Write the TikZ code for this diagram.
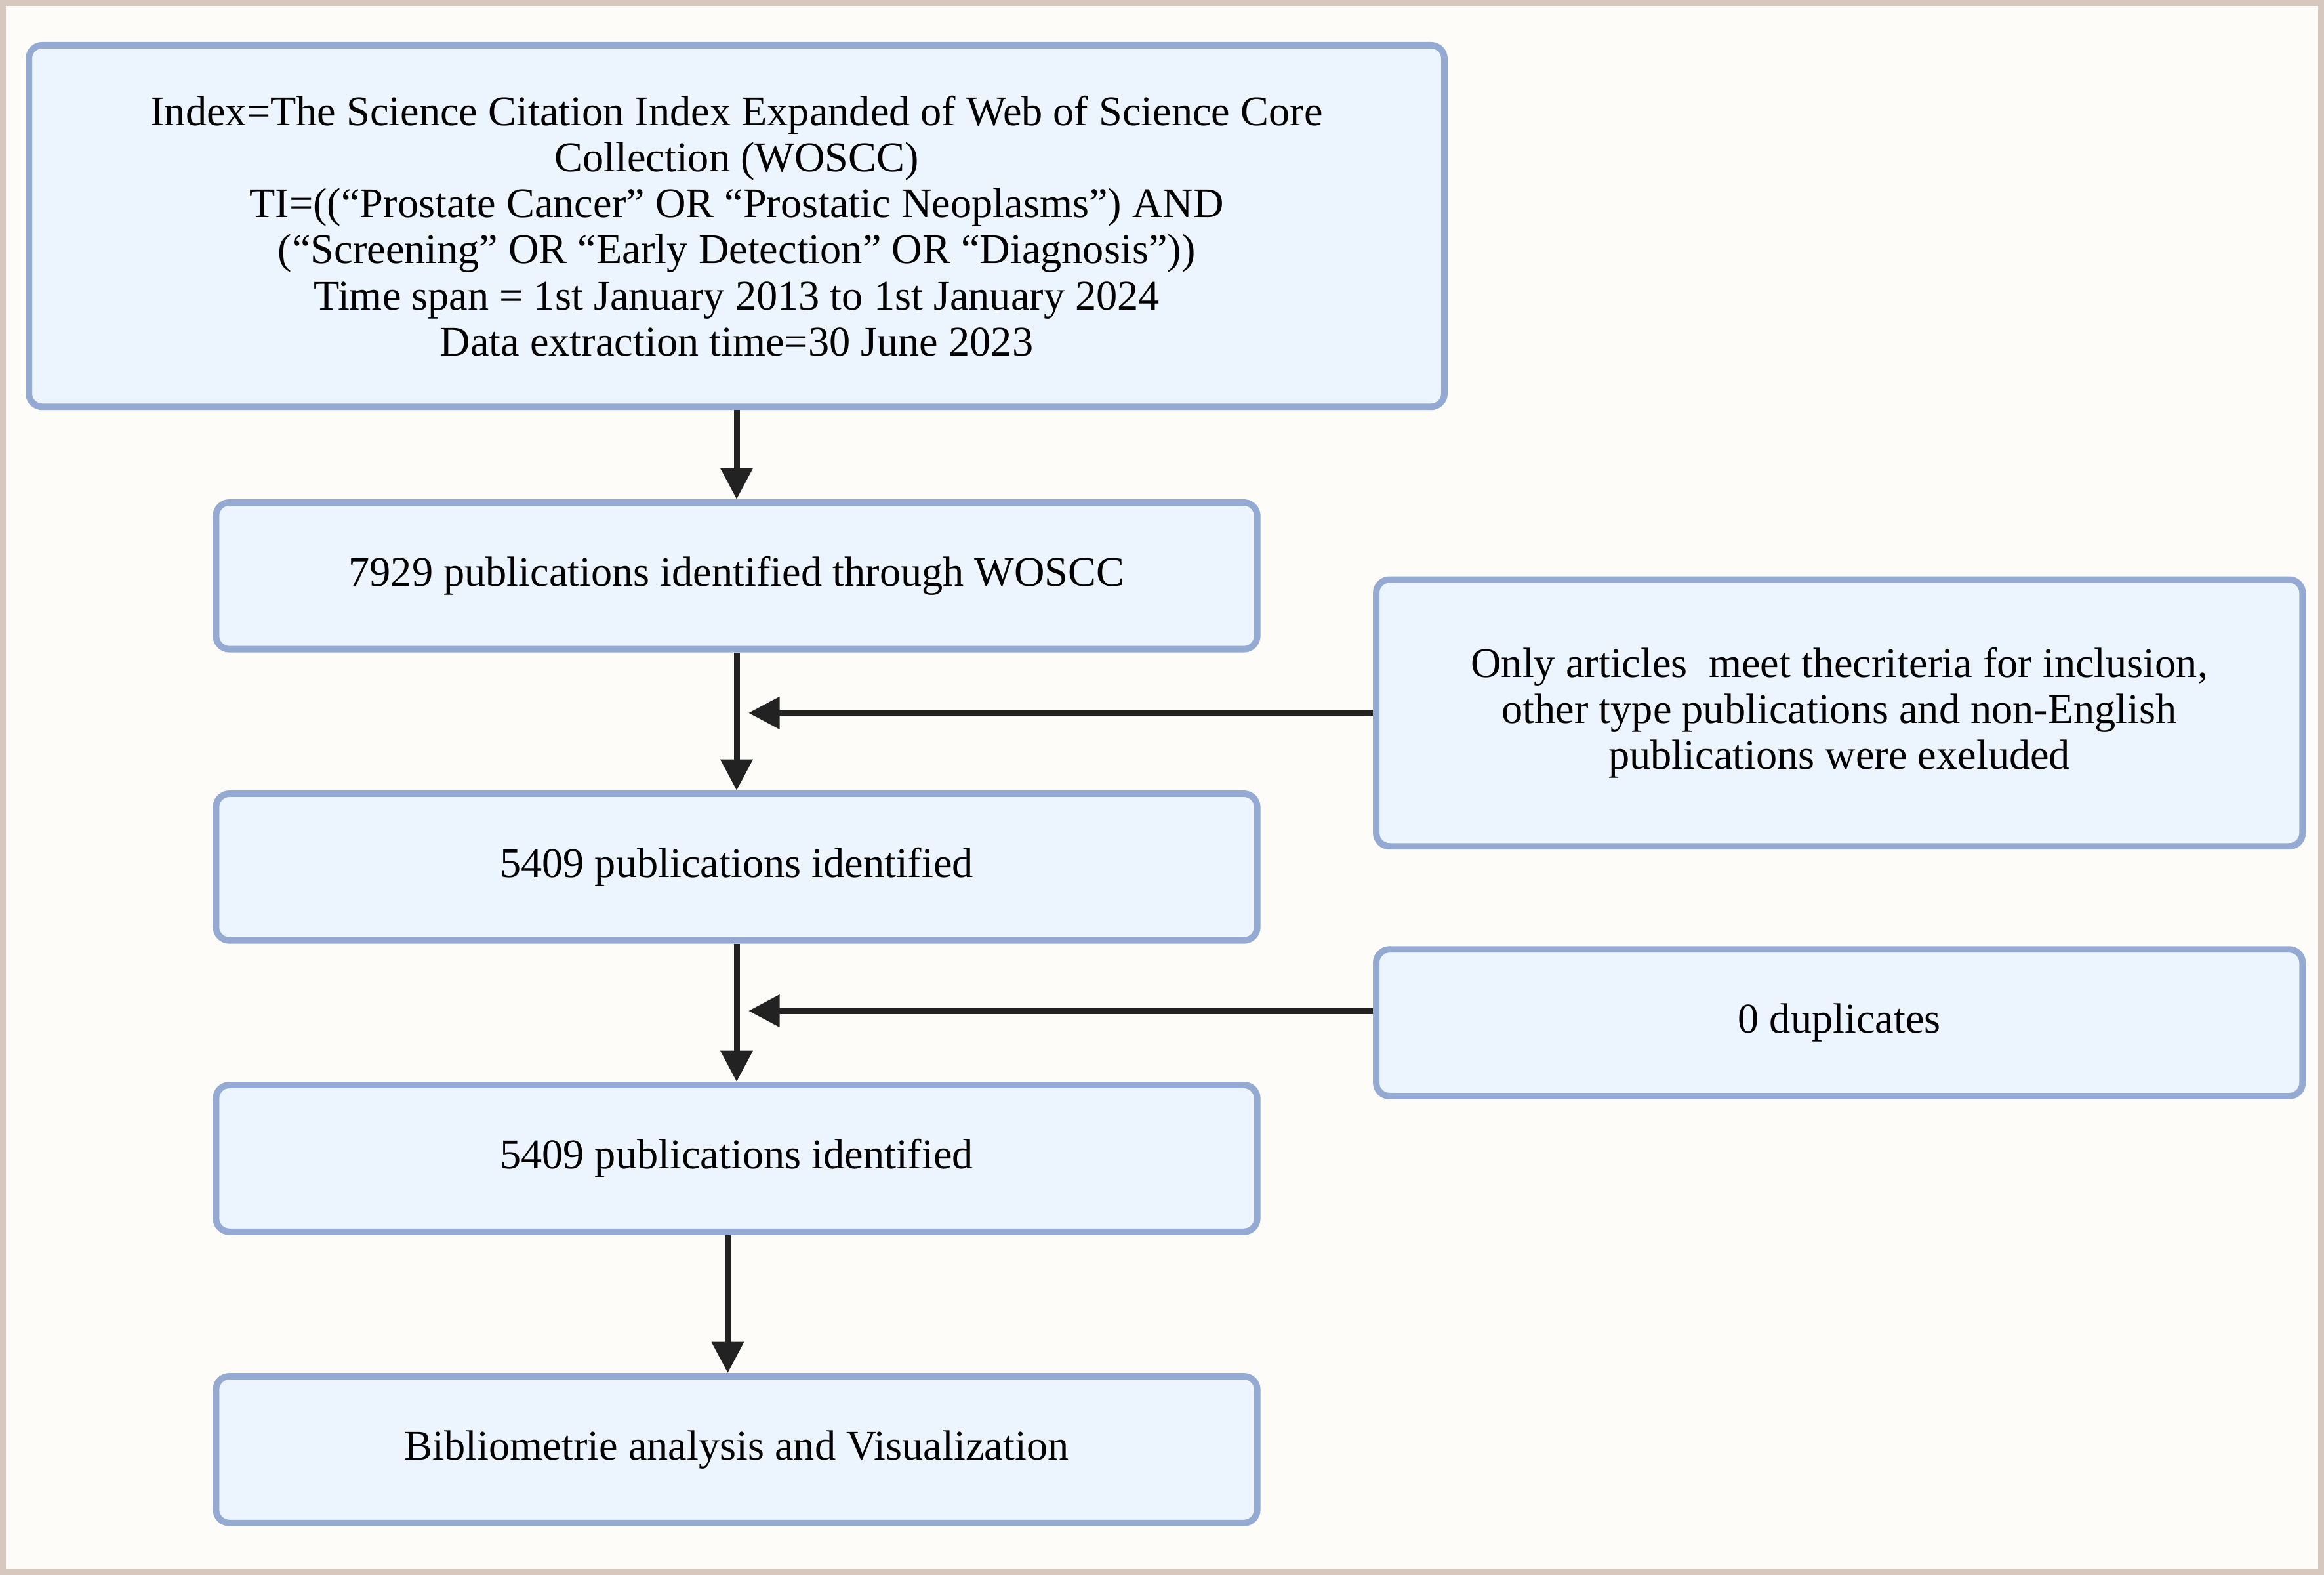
\documentclass[tikz,border=0pt]{standalone}
\usepackage{fontspec}
\setmainfont{Liberation Serif}
\usetikzlibrary{arrows.meta}
\definecolor{framecol}{RGB}{214,200,190}
\definecolor{paper}{RGB}{254,252,249}
\definecolor{boxfill}{RGB}{236,244,253}
\definecolor{boxline}{RGB}{148,170,210}
\definecolor{ink}{RGB}{34,34,34}
\begin{document}
\begin{tikzpicture}[
	stage/.style={draw=boxline,fill=boxfill,line width=2.5pt,rounded corners=0.18cm,align=center,font=\fontsize{16.2}{17.65}\selectfont},
	flow/.style={draw=ink,line width=0.08cm,-{Triangle[width=0.42cm,length=0.42cm]}}]
	\useasboundingbox (0,0) rectangle (31.36,-21.25);
	\fill[framecol] (0,0) rectangle (31.36,-21.25);
	\fill[paper] (0.08,-0.08) rectangle (31.28,-21.17);
	\node[stage,minimum width=19.1cm,minimum height=4.88cm] (A) at (9.94,-3.05) {Index=The Science Citation Index Expanded of Web of Science Core\\Collection (WOSCC)\\TI=((“Prostate Cancer” OR “Prostatic Neoplasms”) AND\\(“Screening” OR “Early Detection” OR “Diagnosis”))\\Time span = 1st January 2013 to 1st January 2024\\Data extraction time=30 June 2023};
	\node[stage,minimum width=14.05cm,minimum height=1.98cm] (B) at (9.94,-7.77) {7929 publications identified through WOSCC};
	\node[stage,minimum width=14.05cm,minimum height=1.98cm] (C) at (9.94,-11.70) {5409 publications identified};
	\node[stage,minimum width=14.05cm,minimum height=1.98cm] (D) at (9.94,-15.63) {5409 publications identified};
	\node[stage,minimum width=14.05cm,minimum height=1.98cm] (E) at (9.94,-19.56) {Bibliometrie analysis and Visualization};
	\node[stage,minimum width=12.5cm,minimum height=3.6cm] (F) at (24.82,-9.62) {Only articles\ \ meet thecriteria for inclusion,\\other type publications and non-English\\publications were exeluded};
	\node[stage,minimum width=12.5cm,minimum height=1.98cm] (G) at (24.82,-13.80) {0 duplicates};
	\coordinate (f1) at (10.10,-9.62);
	\coordinate (g1) at (10.10,-13.64);
	\draw[flow] (A) -- (B);
	\draw[flow] (B) -- (C);
	\draw[flow] (C) -- (D);
	\draw[flow] ([xshift=-0.12cm]D.south) -- ([xshift=-0.12cm]E.north);
	\draw[flow] (F.west) -- (f1);
	\draw[flow] ([yshift=0.16cm]G.west) -- (g1);
\end{tikzpicture}
\end{document}
